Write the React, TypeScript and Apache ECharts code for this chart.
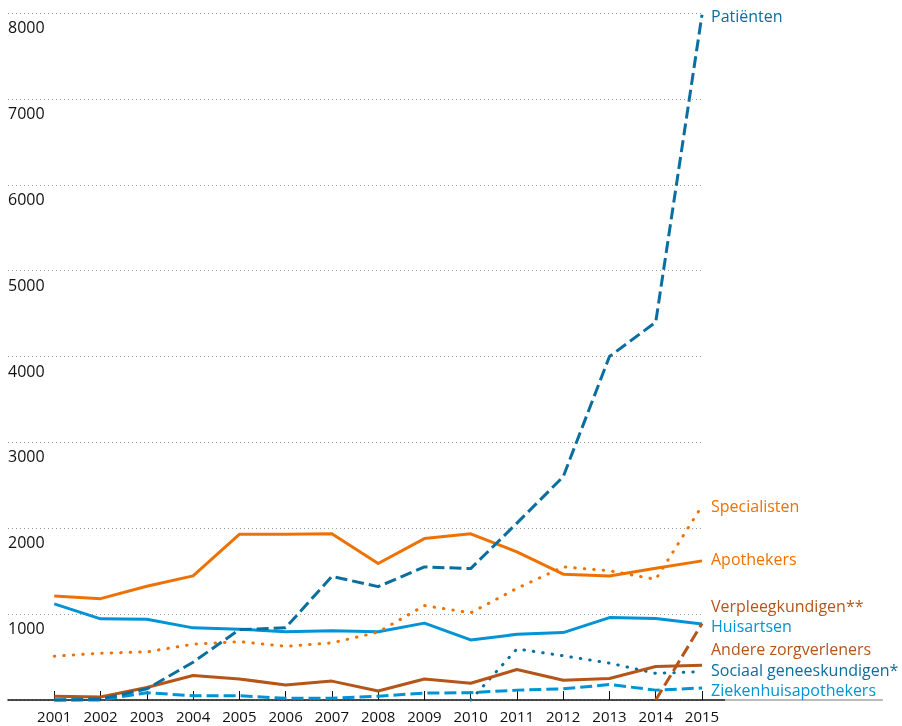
import React, { useEffect, useRef } from "react";
import * as echarts from "echarts";

const years = [2001, 2002, 2003, 2004, 2005, 2006, 2007, 2008, 2009, 2010, 2011, 2012, 2013, 2014, 2015];
const yTicks = [1000, 2000, 3000, 4000, 5000, 6000, 7000, 8000];

const patienten = [0, 10, 130, 440, 820, 840, 1440, 1320, 1550, 1530, 2060, 2600, 4000, 4400, 7980];
const specialisten = [510, 545, 560, 650, 680, 625, 665, 790, 1100, 1015, 1300, 1550, 1505, 1405, 2260];
const apothekers = [1210, 1180, 1325, 1445, 1930, 1930, 1935, 1590, 1880, 1935, 1725, 1465, 1445, 1535, 1620];
const huisartsen = [1120, 945, 940, 840, 825, 795, 805, 795, 895, 700, 765, 785, 960, 950, 885];
const andere = [45, 35, 145, 285, 245, 175, 220, 105, 245, 195, 355, 230, 250, 390, 405];
const ziekenhuis = [0, 0, 85, 50, 50, 20, 20, 45, 80, 85, 115, 130, 180, 115, 140];
const verpleegYears = [2014, 2015];
const verpleeg = [0, 890];
const sociaalYears = [2010, 2011, 2012, 2013, 2014, 2015];
const sociaal = [0, 595, 515, 430, 310, 330];

const ORANGE = "#EE7203";
const LIGHTBLUE = "#0094D4";
const DARKBLUE = "#0A6E9E";
const BROWN = "#B45519";
const FONT = "Open Sans";

function pairs(xs: number[], ys: number[]) {
  return xs.map((x, i) => [x, ys[i]]);
}

function mk(name: string, xs: number[], ys: number[], color: string, type: any, dy: number) {
  return {
    name,
    type: "line",
    data: pairs(xs, ys),
    symbol: "none",
    clip: false,
    lineStyle: { color, width: 3, type, cap: Array.isArray(type) && type[0] < 2 ? "round" : "butt", join: "round" },
    endLabel: {
      show: true,
      formatter: name,
      color,
      fontFamily: FONT,
      fontSize: 16,
      lineHeight: 15,
      distance: 9,
      offset: [0, dy],
    },
  };
}

export default function App() {
  const ref = useRef<HTMLDivElement>(null);
  useEffect(() => {
    if (!ref.current) return;
    const chart = echarts.init(ref.current, null, { renderer: "svg" });
    chart.setOption({
      animation: false,
      textStyle: { fontFamily: FONT },
      grid: { left: 8, right: 200, top: 13, bottom: 26, containLabel: false },
      xAxis: {
        type: "value",
        min: 2000,
        max: 2015,
        axisLine: { show: true, lineStyle: { color: "#111", width: 1.5 } },
        axisTick: { show: true, inside: true, length: 9, customValues: years, lineStyle: { color: "#111", width: 1 } },
        axisLabel: {
          customValues: years,
          color: "#111",
          fontSize: 15,
          margin: 8,
          fontFamily: FONT,
          formatter: (v: number) => String(v),
        },
        splitLine: { show: false },
      },
      yAxis: {
        type: "value",
        min: 0,
        max: 8000,
        interval: 1000,
        axisLine: { show: false },
        axisTick: { show: false },
        axisLabel: {
          inside: true,
          margin: 0,
          customValues: yTicks,
          color: "#111",
          fontSize: 16,
          fontFamily: FONT,
          verticalAlign: "top",
          lineHeight: 16,
          padding: [6, 0, 0, 0],
          formatter: (v: number) => String(v),
        },
        splitLine: { show: true, lineStyle: { color: "#9a9a9a", width: 1, type: [1, 3] } },
      },
      graphic: [
        { type: "line", shape: { x1: 702, y1: 700, x2: 725, y2: 700 }, style: { stroke: "#111", lineWidth: 1.5 } },
        { type: "line", shape: { x1: 725, y1: 700, x2: 883, y2: 700 }, style: { stroke: "#555", lineWidth: 0.8 } },
      ],
      series: [
        mk("Ziekenhuisapothekers", years, ziekenhuis, LIGHTBLUE, [12, 5], 2),
        mk("Sociaal geneeskundigen*", sociaalYears, sociaal, DARKBLUE, [0.5, 9], -2),
        mk("Andere zorgverleners", years, andere, BROWN, "solid", -16),
        mk("Huisartsen", years, huisartsen, LIGHTBLUE, "solid", 2),
        mk("Verpleegkundigen**", verpleegYears, verpleeg, BROWN, [12, 5], -18),
        mk("Apothekers", years, apothekers, ORANGE, "solid", -2),
        mk("Specialisten", years, specialisten, ORANGE, [0.5, 9], 0),
        mk("Patiënten", years, patienten, DARKBLUE, [12, 5], 1),
      ],
    });
    return () => chart.dispose();
  }, []);
  return <div ref={ref} style={{ position: "fixed", left: 0, top: 0, width: 902, height: 726 }} />;
}
